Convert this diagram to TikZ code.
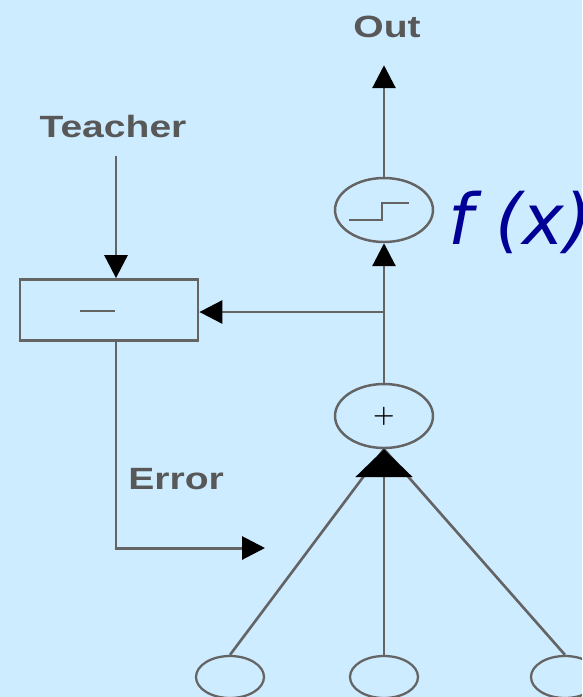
\documentclass[tikz,border=0pt]{standalone}
\usepackage{fontspec}
\usetikzlibrary{arrows.meta, calc, shapes.geometric}
\newfontfamily\lblfont[FakeStretch=1.27]{Liberation Sans}
\newfontfamily\fxfont{DejaVu Sans}

\begin{document}
\begin{tikzpicture}[x=0.02cm, y=-0.02cm,
    % Styles
    unit/.style={
        ellipse, draw=wiregray, line width=1.4pt,
        minimum width=1.96cm, minimum height=1.28cm,
        inner sep=0pt
    },
    input/.style={
        ellipse, draw=wiregray, line width=1.3pt,
        minimum width=1.36cm, minimum height=0.84cm,
        inner sep=0pt
    },
    diffbox/.style={
        rectangle, draw=wiregray, line width=1.6pt,
        minimum width=3.56cm, minimum height=1.22cm
    },
    label/.style={
        font=\lblfont\bfseries\fontsize{17.5}{18}\selectfont,
        text=labelgray, inner sep=0pt
    },
    wire/.style={
        draw=wiregray, line width=1.7pt
    },
    arrow/.style={
        wire, -{Triangle[length=0.46cm, width=0.46cm, color=black]}
    },
]
% Define colors
\definecolor{bgblue}{RGB}{206,236,255}
\definecolor{wiregray}{RGB}{100,100,100}
\definecolor{labelgray}{RGB}{88,88,88}
\definecolor{fxblue}{RGB}{0,0,150}

% Background
\clip (0,0) rectangle (582,697);
\fill[bgblue] (0,0) rectangle (582,697);

% Neuron column
\node[label] (out) at (387,27) {Out};
\node[unit] (sig) at (384,210) {};
\node[unit, font=\bfseries\fontsize{14}{14}\selectfont] (sum) at (384,416) {+};
\node[font=\fxfont\itshape\fontsize{40}{42}\selectfont, text=fxblue,
      anchor=base west, inner sep=0pt] (fx) at (448,244) {f (x)};

% Step symbol
\draw[wiregray, line width=1.4pt]
    ($(sig)+(-35,10)$) -- ++(33,0) -- ++(0,-17) -- ++(27,0);

% Inputs
\node[input] (in1) at (230,677) {};
\node[input] (in2) at (384,677) {};
\node[input] (in3) at (565,677) {};

% Comparator
\node[diffbox] (diff) at (109,310) {};
\draw[wiregray, line width=1.4pt] ($(diff)+(-29,1)$) -- ($(diff)+(6,1)$);
\node[label] (teacher) at (113,127) {Teacher};
\node[label, anchor=west] (err) at (128,479) {Error};

\coordinate (tap) at (116,310);
\coordinate (branch) at (384,312);
\coordinate (errend) at (265,548);

% Connectors
\draw[arrow, shorten >=27*0.02cm] (sig.north) -- (sig.north |- out.south);
\draw[arrow] (sum.north) -- (sig.south);
\draw[arrow] (branch) -- (branch -| diff.east);
\draw[arrow, shorten <=17*0.02cm] (teacher.south -| tap) -- (diff.north -| tap);
\draw[arrow] (diff.south -| tap) |- (errend);

\draw[wire, line width=1.5pt] (in1.north) -- (sum.south);
\draw[wire, line width=1.5pt] (in3.north) -- (sum.south);
\draw[wire, -{Triangle[length=0.56cm, width=1.14cm, color=black]}] (in2.north) -- (sum.south);

\end{tikzpicture}
\end{document}
